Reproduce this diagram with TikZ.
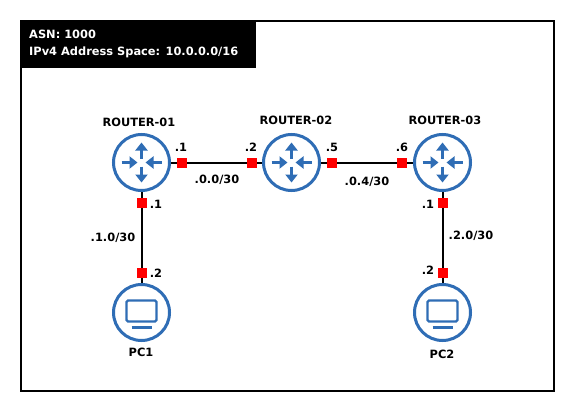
\documentclass[tikz,border=0pt]{standalone}
\usepackage{fontspec}
\setmainfont{DejaVu Sans}
\usetikzlibrary{arrows.meta}
\definecolor{iconblue}{HTML}{2F6DB5}
\tikzset{
  device/.style={circle,draw=iconblue,line width=3pt,fill=white,minimum size=56pt,inner sep=0pt},
  port/.style={rectangle,fill=red,minimum size=10pt,inner sep=0pt},
  link/.style={line width=2pt,black},
  lbl/.style={font=\bfseries\fontsize{11.4}{13}\selectfont,inner sep=0pt},
  flow/.style={line width=3.5pt,iconblue,-{Triangle[length=8pt,width=12pt]}},
  routericon/.pic={
    \draw[flow] (0,-4) -- (0,-20);
    \draw[flow] (0,4) -- (0,20);
    \draw[flow] (-20,0) -- (-4,0);
    \draw[flow] (20,0) -- (4,0);
  },
  pcicon/.pic={
    \draw[iconblue,line width=2.2pt,rounded corners=1.5pt] (-15,-12) rectangle (15,9);
    \draw[iconblue,line width=2.2pt] (-10,15) -- (10,15);
  }
}
\begin{document}
\begin{tikzpicture}[x=1pt,y=-1pt]
  \useasboundingbox (0,0) rectangle (575,412);
  \draw[line width=2pt] (21,21) rectangle (554,391);
  \node[fill=black,text=white,minimum width=235pt,minimum height=47pt,inner sep=0pt] (info) at (138.5,44.5) {};
  \node[lbl,text=white,anchor=base west] (asn) at (29,39) {ASN: 1000};
  \node[lbl,text=white,anchor=base west] (space) at (29,56) {IPv4 Address Space: 10.0.0.0/16};
  % devices
  \node[device] (r1) at (141.5,162.5) {};
  \node[device] (r2) at (291.5,162.5) {};
  \node[device] (r3) at (442.5,162.5) {};
  \node[device] (pc1) at (141.5,312.5) {};
  \node[device] (pc2) at (442.5,312.5) {};
  \pic at (r1) {routericon};
  \pic at (r2) {routericon};
  \pic at (r3) {routericon};
  \pic at (pc1) {pcicon};
  \pic at (pc2) {pcicon};
  % links
  \draw[link] (r1) -- (r2);
  \draw[link] (r2) -- (r3);
  \draw[link] (r1) -- (pc1);
  \draw[link] (r3) -- (pc2);
  % ports
  \node[port] (p1) at (182,162.5) {};
  \node[port] (p2) at (252,162.5) {};
  \node[port] (p3) at (332,162.5) {};
  \node[port] (p4) at (402,162.5) {};
  \node[port] (p5) at (141.5,202.5) {};
  \node[port] (p6) at (141.5,272.5) {};
  \node[port] (p7) at (442.5,202.5) {};
  \node[port] (p8) at (442.5,272.5) {};
  % labels
  \node[lbl] (n1) at (139,122) {ROUTER-01};
  \node[lbl] (n2) at (296,120) {ROUTER-02};
  \node[lbl] (n3) at (445,120) {ROUTER-03};
  \node[lbl] (n4) at (141,352) {PC1};
  \node[lbl] (n5) at (442,354) {PC2};
  \node[lbl] (a1) at (181,147) {.1};
  \node[lbl] (a2) at (251,147) {.2};
  \node[lbl] (a3) at (332,147) {.5};
  \node[lbl] (a4) at (402,147) {.6};
  \node[lbl] (a5) at (156,204) {.1};
  \node[lbl] (a6) at (156,273) {.2};
  \node[lbl] (a7) at (428,204) {.1};
  \node[lbl] (a8) at (428,270) {.2};
  \node[lbl] (s1) at (217,180) {.0.0/30};
  \node[lbl] (s2) at (367,182) {.0.4/30};
  \node[lbl] (s3) at (113,238) {.1.0/30};
  \node[lbl] (s4) at (471,236) {.2.0/30};
\end{tikzpicture}
\end{document}
